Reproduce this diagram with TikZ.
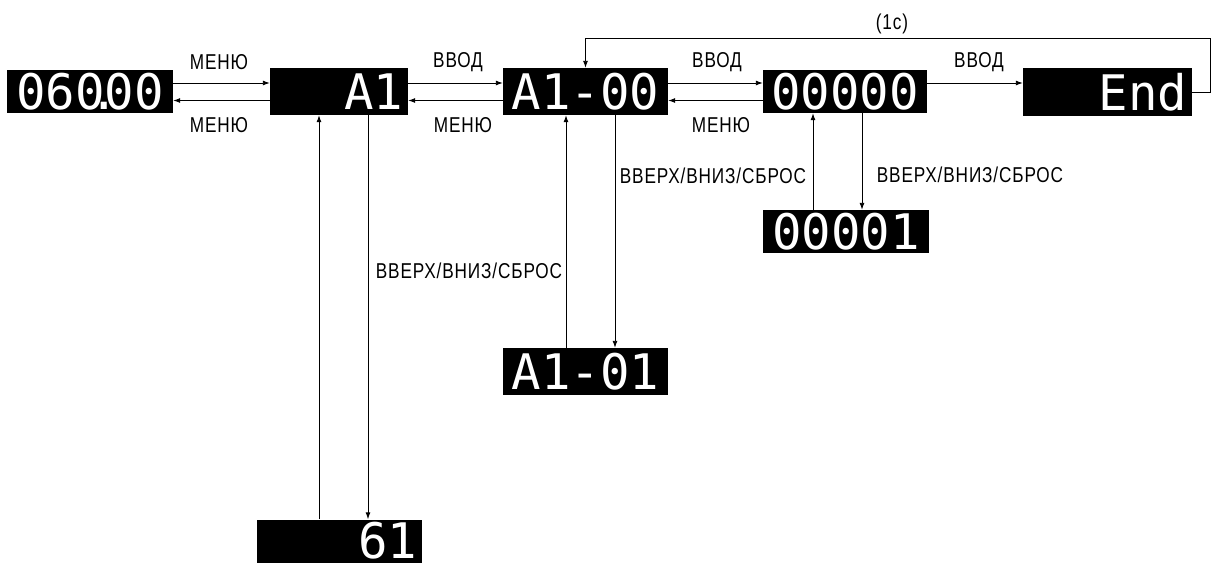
\documentclass[tikz,border=0pt]{standalone}
\usepackage{fontspec}
\setmainfont{Liberation Sans}
\newfontfamily\lblfont[FakeStretch=0.8,LetterSpace=4]{Liberation Sans}
\newfontfamily\segfont{DejaVu Sans Mono}
\usetikzlibrary{arrows.meta}
\begin{document}
\begin{tikzpicture}[x=1pt,y=-1pt,
  disp/.style={fill=black,text=white,font=\segfont\fontsize{49}{49}\selectfont,inner sep=0pt},
  lbl/.style={font=\lblfont\fontsize{21.5}{21.5}\selectfont,inner sep=0pt},
  arr/.style={draw=black,line width=0.9pt,-{Latex[length=7pt,width=5pt]}}]
\useasboundingbox (0,0) rectangle (1211,563);
% displays
\node[disp,minimum width=166pt,minimum height=43pt] (D0) at (90,91.5) {060\kern-14.75pt.\kern-14.75pt00};
\node[disp,minimum width=138pt,minimum height=47pt,text width=128pt,align=right] (A1) at (339,91.5) {A1};
\node[disp,minimum width=165pt,minimum height=47pt] (A100) at (585.5,91.5) {A1-00};
\node[disp,minimum width=164pt,minimum height=43pt] (Z0) at (845,91.5) {00000};
\node[disp,minimum width=169pt,minimum height=48pt,text width=159pt,align=right] (End) at (1107.5,92) {End};
\node[disp,minimum width=166pt,minimum height=43pt] (Z1) at (846,231.5) {00001};
\node[disp,minimum width=165pt,minimum height=47pt] (A101) at (585.5,371.5) {A1-01};
\node[disp,minimum width=165pt,minimum height=43pt,text width=155pt,align=right] (G61) at (339.5,541) {61};
% horizontal connectors
\coordinate (f1) at ([yshift=8.5pt]D0.east);
\coordinate (b1) at ([yshift=-9pt]A1.west);
\draw[arr] (f1) -- (f1 -| A1.west);
\draw[arr] (b1) -- (b1 -| D0.east);
\coordinate (f2) at ([yshift=8.5pt]A1.east);
\coordinate (b2) at ([yshift=-9pt]A100.west);
\draw[arr] (f2) -- (f2 -| A100.west);
\draw[arr] (b2) -- (b2 -| A1.east);
\coordinate (f3) at ([yshift=8.5pt]A100.east);
\coordinate (b3) at ([yshift=-9pt]Z0.west);
\draw[arr] (f3) -- (f3 -| Z0.west);
\draw[arr] (b3) -- (b3 -| A100.east);
\coordinate (f4) at ([yshift=8.5pt]Z0.east);
\draw[arr] (f4) -- (f4 -| End.west);
% loop back
\coordinate (c1) at (1210,38);
\draw[arr] (End.east) -- (End.east -| c1) -- (c1) -- (c1 -| A100.north) -- (A100.north);
% vertical connectors
\coordinate (u1) at (319,0);
\coordinate (d1) at (368,0);
\draw[arr] (G61.north -| u1) -- (A1.south -| u1);
\draw[arr] (A1.south -| d1) -- (G61.north -| d1);
\coordinate (u2) at (566,0);
\coordinate (d2) at (615,0);
\draw[arr] (A101.north -| u2) -- (A100.south -| u2);
\draw[arr] (A100.south -| d2) -- (A101.north -| d2);
\coordinate (u3) at (813,0);
\coordinate (d3) at (862,0);
\draw[arr] (Z1.north -| u3) -- (Z0.south -| u3);
\draw[arr] (Z0.south -| d3) -- (Z1.north -| d3);
% labels
\node[lbl] (m1) at (219,62) {МЕНЮ};
\node[lbl] (m2) at (219,125) {МЕНЮ};
\node[lbl] (v1) at (458,62) {ВВОД};
\node[lbl] (m3) at (463,125) {МЕНЮ};
\node[lbl] (v2) at (717,62) {ВВОД};
\node[lbl] (m4) at (721,125) {МЕНЮ};
\node[lbl] (v3) at (979,62) {ВВОД};
\node[lbl] (t1) at (892,24) {(1c)};
\node[lbl] (s1) at (469,271) {ВВЕРХ/ВНИЗ/СБРОС};
\node[lbl] (s2) at (713,176) {ВВЕРХ/ВНИЗ/СБРОС};
\node[lbl] (s3) at (970,175) {ВВЕРХ/ВНИЗ/СБРОС};
\end{tikzpicture}
\end{document}
